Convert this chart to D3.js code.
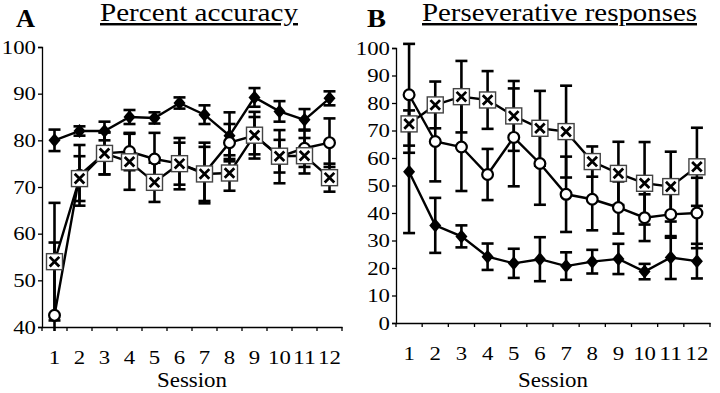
<!DOCTYPE html>
<html>
<head>
<meta charset="utf-8">
<script src="https://cdn.jsdelivr.net/npm/d3@7"></script>
<style>
  body { margin: 0; background: #fff; }
  svg { display: block; font-family: 'Liberation Serif', 'Times New Roman', serif; }
  svg text { font-family: 'Liberation Serif', 'Times New Roman', serif; }
</style>
</head>
<body>
<div id="chart"></div>
<script>
// sessions on the x axis
const sessions = [1, 2, 3, 4, 5, 6, 7, 8, 9, 10, 11, 12];

// panel A - percent accuracy
const accTicks = [40, 50, 60, 70, 80, 90, 100];
const accDiamond = [80, 82, 82, 85, 84.8, 88, 85.5, 81, 89.2, 86.2, 84.4, 89];
const accDiamondErr = [2.3, 1, 2, 1.5, 1.2, 1.2, 2, 5, 2, 2.2, 2.3, 1.5];
const accCircle = [42.5, 72.5, 77.2, 77.6, 76, 75, 73, 79.5, 81, 76.5, 78.3, 79.5];
const accCircleErr = [15.6, 6.5, 4.5, 4, 5.6, 5.5, 6.5, 4, 4, 5.7, 4, 5.2];
const accSquare = [54, 71.8, 77.2, 75.4, 71, 75, 72.8, 73, 81.1, 76.6, 76.7, 72];
const accSquareErr = [12.6, 4.8, 4.5, 6, 4.2, 4.5, 5.8, 3.8, 5, 3.5, 3.8, 3];

// panel B - perseverative responses
const perTicks = [0, 10, 20, 30, 40, 50, 60, 70, 80, 90, 100];
const perDiamond = [55, 35.5, 31.5, 24.1, 21.7, 23.2, 20.7, 22.3, 23.3, 18.7, 23.8, 22.5];
const perDiamondErr = [22.3, 10, 4, 4.8, 5.3, 8, 5, 4.3, 5.5, 2.8, 7.8, 6.3];
const perCircle = [83, 66, 64, 54, 67.5, 58, 46.8, 45, 42, 38.3, 39.5, 40];
const perCircleErr = [18.5, 14.5, 16, 9.3, 17.8, 15, 13.7, 11.3, 9.5, 8.5, 8.5, 12.8];
const perSquare = [72.4, 79.3, 82.3, 81.1, 75.3, 70.8, 69.6, 58.7, 54.4, 50.8, 49.6, 56.8];
const perSquareErr = [10.5, 8.5, 13, 10.5, 12.7, 13.6, 16.7, 5.5, 11.5, 15, 12.7, 14.2];

const serif = "'Liberation Serif', 'Times New Roman', serif";

const svg = d3.select('#chart').append('svg')
    .attr('width', 720)
    .attr('height', 393);

class ErrorPanel {

    constructor(_config, series) {
        this.config = {
            left: _config.left, right: _config.right,
            top: _config.top, bottom: _config.bottom,
            domain: _config.domain, ticks: _config.ticks,
            letter: _config.letter, letterX: _config.letterX,
            title: _config.title, titleX: _config.titleX, titleWidth: _config.titleWidth
        };
        this.series = series;
        this.initVis();
    }

    initVis() {
        let vis = this;

        vis.xScale = d3.scaleBand()
            .domain(sessions)
            .range([vis.config.left, vis.config.right]);

        vis.yScale = d3.scaleLinear()
            .domain(vis.config.domain)
            .range([vis.config.bottom, vis.config.top]);

        vis.g = svg.append('g');

        // panel letter and underlined title (the scan is a bit wide, so stretch text)
        vis.g.append('text')
            .attr('x', vis.config.letterX)
            .attr('y', 27)
            .attr('textLength', 19)
            .attr('lengthAdjust', 'spacingAndGlyphs')
            .style('font-size', '25px')
            .style('font-weight', 'bold')
            .text(vis.config.letter);

        vis.g.append('text')
            .attr('x', vis.config.titleX)
            .attr('y', 21)
            .attr('textLength', vis.config.titleWidth)
            .attr('lengthAdjust', 'spacingAndGlyphs')
            .style('font-size', '24.5px')
            .style('text-decoration', 'underline')
            .text(vis.config.title);

        // y axis
        vis.yAxisG = vis.g.append('g')
            .attr('class', 'axis y-axis')
            .attr('transform', `translate(${vis.config.left},0)`)
            .call(d3.axisLeft(vis.yScale).tickValues(vis.config.ticks).tickSize(4).tickPadding(2));

        // x axis, ticks on band edges
        vis.xAxisG = vis.g.append('g')
            .attr('class', 'axis x-axis')
            .attr('transform', `translate(0,${vis.config.bottom})`)
            .call(d3.axisBottom(vis.xScale).tickSize(0).tickPadding(23));

        const edges = d3.range(sessions.length + 1).map(i => vis.config.left + i * vis.xScale.step());
        vis.xAxisG.selectAll('.edge')
            .data(edges)
            .join('line')
            .attr('class', 'edge')
            .attr('x1', d => d).attr('x2', d => d)
            .attr('y1', 0).attr('y2', 4)
            .attr('stroke', '#000')
            .attr('stroke-width', 1.3);

        vis.g.selectAll('.axis')
            .attr('font-family', null)
            .attr('font-size', null);
        vis.g.selectAll('.axis .domain')
            .attr('stroke', '#000')
            .attr('stroke-width', 1.3);
        vis.g.selectAll('.axis .tick line')
            .attr('stroke-width', 1.3);
        vis.g.selectAll('.axis text')
            .attr('font-family', serif)
            .attr('textLength', function () { return this.textContent.length * 11.4; })
            .attr('lengthAdjust', 'spacingAndGlyphs')
            .style('font-size', '19.5px')
            .attr('fill', '#000');

        vis.g.append('text')
            .attr('x', (vis.config.left + vis.config.right) / 2)
            .attr('y', 387)
            .attr('text-anchor', 'middle')
            .attr('textLength', 70)
            .attr('lengthAdjust', 'spacingAndGlyphs')
            .style('font-size', '21px')
            .text('Session');

        vis.renderVis();
    }

    renderVis() {
        let vis = this;
        const cx = i => vis.xScale(sessions[i]) + vis.xScale.bandwidth() / 2;
        const floor = vis.config.bottom + 4;

        // error bars first
        vis.series.forEach(s => {
            const bars = s.values.map((v, i) => ({
                x: cx(i),
                hi: vis.yScale(v + s.err[i]),
                lo: Math.min(vis.yScale(v - s.err[i]), floor),
                clipped: vis.yScale(v - s.err[i]) > floor
            }));
            const eg = vis.g.append('g').attr('class', 'errors');
            eg.selectAll('.stem').data(bars).join('line')
                .attr('x1', d => d.x).attr('x2', d => d.x)
                .attr('y1', d => d.hi).attr('y2', d => d.lo)
                .attr('stroke', '#000').attr('stroke-width', 2.6);
            eg.selectAll('.cap-hi').data(bars).join('line')
                .attr('x1', d => d.x - 6).attr('x2', d => d.x + 6)
                .attr('y1', d => d.hi).attr('y2', d => d.hi)
                .attr('stroke', '#000').attr('stroke-width', 2.6);
            eg.selectAll('.cap-lo').data(bars.filter(d => !d.clipped)).join('line')
                .attr('x1', d => d.x - 6).attr('x2', d => d.x + 6)
                .attr('y1', d => d.lo).attr('y2', d => d.lo)
                .attr('stroke', '#000').attr('stroke-width', 2.6);
        });

        // connecting lines
        vis.series.forEach(s => {
            const line = d3.line()
                .x((d, i) => cx(i))
                .y(d => vis.yScale(d));
            vis.g.append('path')
                .datum(s.values)
                .attr('d', line)
                .attr('fill', 'none')
                .attr('stroke', '#000')
                .attr('stroke-width', 2.4);
        });

        // markers
        vis.series.forEach(s => {
            const mg = vis.g.append('g').attr('class', 'markers');
            const pts = mg.selectAll('g').data(s.values).join('g')
                .attr('transform', (d, i) => `translate(${cx(i)},${vis.yScale(d)})`);
            if (s.shape === 'diamond') {
                pts.append('path')
                    .attr('d', 'M0,-7L6,0L0,7L-6,0Z')
                    .attr('fill', '#000');
            } else if (s.shape === 'circle') {
                pts.append('circle')
                    .attr('r', 5.4)
                    .attr('fill', '#fff')
                    .attr('stroke', '#000')
                    .attr('stroke-width', 2.2);
            } else {
                pts.append('rect')
                    .attr('x', -8).attr('y', -8)
                    .attr('width', 16).attr('height', 16)
                    .attr('fill', '#fff')
                    .attr('stroke', '#444')
                    .attr('stroke-width', 1.4);
                pts.append('path')
                    .attr('d', 'M-4.8,-4.8L4.8,4.8M4.8,-4.8L-4.8,4.8')
                    .attr('stroke', '#000')
                    .attr('stroke-width', 2.8);
            }
        });
    }
}

new ErrorPanel({
    left: 42, right: 342, top: 47, bottom: 327,
    domain: [40, 100], ticks: accTicks,
    letter: 'A', letterX: 16,
    title: 'Percent accuracy', titleX: 100, titleWidth: 198
}, [
    { shape: 'diamond', values: accDiamond, err: accDiamondErr },
    { shape: 'circle', values: accCircle, err: accCircleErr },
    { shape: 'square', values: accSquare, err: accSquareErr }
]);

new ErrorPanel({
    left: 396, right: 710, top: 48, bottom: 323,
    domain: [0, 100], ticks: perTicks,
    letter: 'B', letterX: 367,
    title: 'Perseverative responses', titleX: 422, titleWidth: 275
}, [
    { shape: 'diamond', values: perDiamond, err: perDiamondErr },
    { shape: 'circle', values: perCircle, err: perCircleErr },
    { shape: 'square', values: perSquare, err: perSquareErr }
]);
</script>
</body>
</html>
